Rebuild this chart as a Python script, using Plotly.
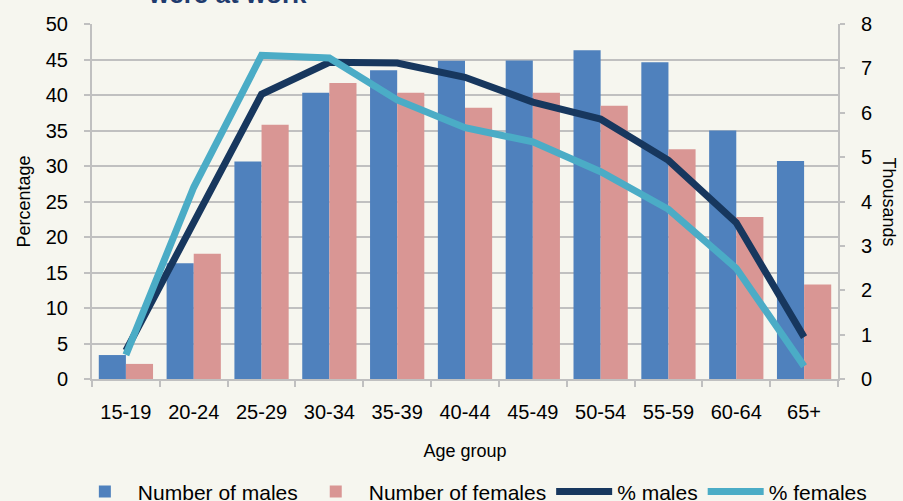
import plotly.graph_objects as go

age_groups = ["15-19", "20-24", "25-29", "30-34", "35-39", "40-44",
              "45-49", "50-54", "55-59", "60-64", "65+"]

# thousands (right axis)
males_k = [0.54, 2.61, 4.90, 6.45, 6.96, 7.17, 7.18, 7.41, 7.14, 5.60, 4.91]
females_k = [0.34, 2.82, 5.73, 6.67, 6.45, 6.11, 6.45, 6.16, 5.18, 3.65, 2.13]

# percentage (left axis)
pct_males = [4.0, 22.3, 40.1, 44.6, 44.5, 42.5, 39.0, 36.6, 30.8, 22.0, 5.9]
pct_females = [3.4, 27.0, 45.6, 45.2, 39.3, 35.4, 33.4, 29.2, 23.9, 15.6, 1.8]

BG = "#f6f6ef"
GRID = "#c0c0c0"
FONT = "Liberation Sans, Arial, sans-serif"

fig = go.Figure()

# bars on the thousands axis (drawn first, underneath)
fig.add_trace(go.Bar(x=age_groups, y=males_k, name="Number of males",
                     marker=dict(color="#4f81bd", line=dict(width=0))))
fig.add_trace(go.Bar(x=age_groups, y=females_k, name="Number of females",
                     marker=dict(color="#d99694", line=dict(width=0))))
# lines on the percentage axis, overlaid on top
fig.add_trace(go.Scatter(x=age_groups, y=pct_males, name="% males", mode="lines",
                         line=dict(color="#17375e", width=7), yaxis="y2"))
fig.add_trace(go.Scatter(x=age_groups, y=pct_females, name="% females", mode="lines",
                         line=dict(color="#4bacc6", width=7), yaxis="y2"))

fig.update_layout(
    width=903, height=501,
    paper_bgcolor=BG, plot_bgcolor=BG,
    margin=dict(l=92, r=65, t=24, b=122, autoexpand=False),
    font=dict(family=FONT, size=20, color="#000000"),
    barmode="group", bargap=0.2, bargroupgap=0,
    showlegend=True,
    legend=dict(orientation="h", x=-0.027, xanchor="left", y=-0.318, yanchor="middle",
                font=dict(size=21), bgcolor="rgba(0,0,0,0)", traceorder="normal",
                itemwidth=56),
    xaxis=dict(showline=True, linecolor=GRID, linewidth=2, ticks="outside",
               tickson="boundaries", ticklen=6, tickcolor=GRID, tickwidth=2,
               ticklabelstandoff=14, automargin=False,
               title=dict(text="Age group", font=dict(size=18), standoff=22)),
    yaxis=dict(range=[0, 8], dtick=1, side="right", showgrid=False,
               showline=True, linecolor=GRID, linewidth=2, ticks="outside",
               ticklen=5, tickcolor=GRID, tickwidth=2, ticklabelstandoff=12,
               zeroline=False, automargin=False),
    yaxis2=dict(range=[0, 50], dtick=5, overlaying="y", side="left",
                showgrid=True, gridcolor=GRID, gridwidth=2,
                showline=True, linecolor=GRID, linewidth=2, ticks="outside",
                ticklen=6, tickcolor=GRID, tickwidth=2, ticklabelstandoff=12,
                zeroline=False, automargin=False,
                title=dict(text="Percentage", font=dict(size=18), standoff=10)),
)

fig.add_annotation(text="Thousands", textangle=90, xref="paper", yref="paper",
                   x=(889 - 92) / 746, y=0.5, xanchor="center", yanchor="middle",
                   showarrow=False, font=dict(size=18))
# last line of a title that is cut off by the top edge
fig.add_annotation(text="<b>were at work</b>", xref="paper", yref="paper",
                   x=(227 - 92) / 746, y=1.0845, xanchor="center", yanchor="middle",
                   showarrow=False, font=dict(size=26, color="#1f3b6e"))

# drop the default 8px body margin so the figure fills the window
fig.write_html("out.html", config={"displayModeBar": False},
               post_script="document.body.style.margin='0';")
